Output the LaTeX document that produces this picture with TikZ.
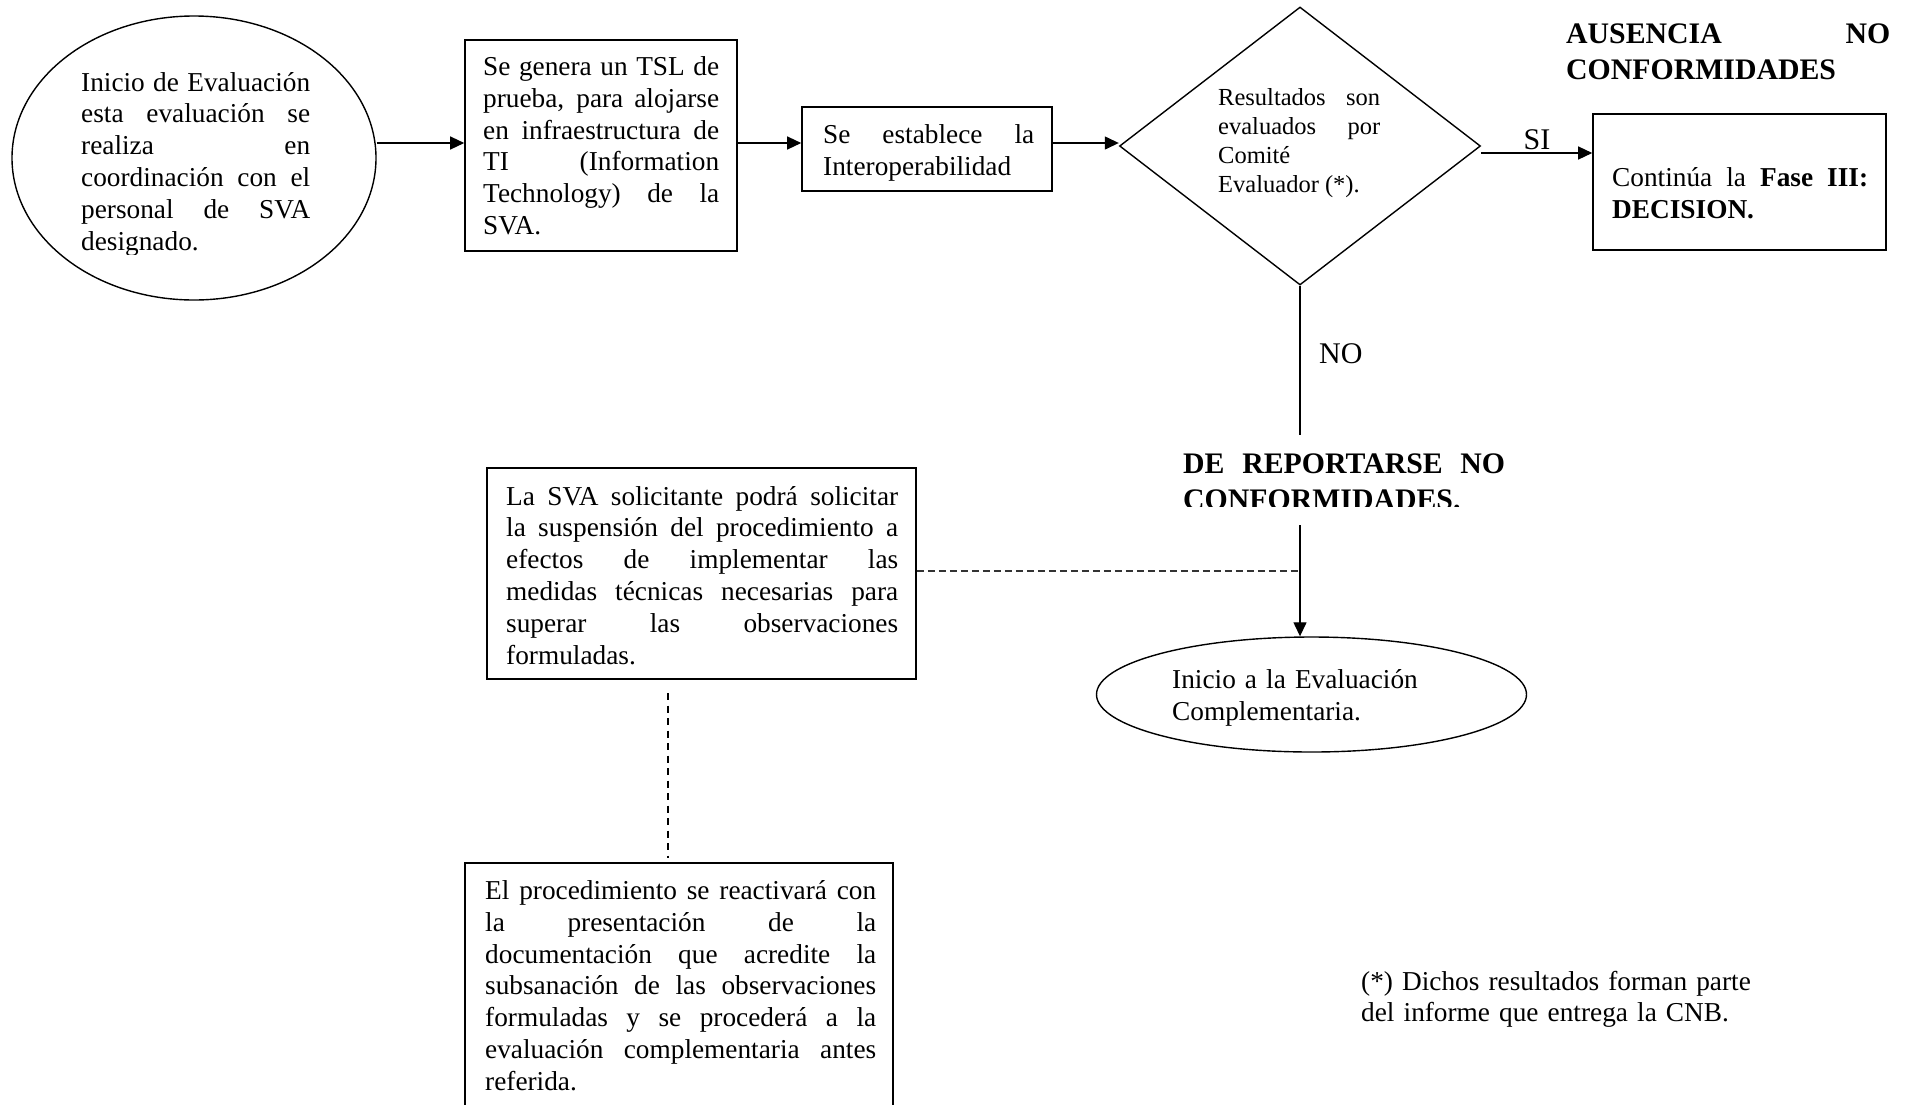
\documentclass[tikz,border=0pt]{standalone}
\usepackage{fontspec}
\setmainfont{Liberation Serif}
\usetikzlibrary{shapes.geometric,arrows.meta,calc}
\tolerance=10000
\hyphenpenalty=10000
\hbadness=10000
\begin{document}
\begin{tikzpicture}[x=1pt,y=-1pt,
  box/.style={draw, line width=1.6pt, rectangle, inner sep=0pt},
  oval/.style={draw, line width=1.4pt, ellipse, inner sep=0pt},
  txt/.style={anchor=base west, inner sep=0pt, align=justify, font=\fontsize{27.3}{31.8}\selectfont},
  smalltxt/.style={anchor=base west, inner sep=0pt, align=justify, font=\fontsize{24.5}{29}\selectfont},
  boldtxt/.style={anchor=base west, inner sep=0pt, align=justify, font=\fontsize{29.8}{36}\selectfont\bfseries},
  lbl/.style={inner sep=0pt, font=\fontsize{30}{36}\selectfont},
  conn/.style={line width=1.3pt},
  arr/.style={line width=1.3pt, -{Triangle[length=14pt,width=13pt]}},
  dashh/.style={line width=1.3pt, black!80, dash pattern=on 7pt off 4pt},
  dashv/.style={line width=1.8pt, dash pattern=on 7pt off 5.5pt}]
\clip (0,0) rectangle (1909,1104);
\fill[white] (0,0) rectangle (1909,1104);

% shapes
\node[oval, minimum width=364pt, minimum height=284pt] (e1) at (194,158) {};
\node[box, minimum width=272pt, minimum height=211pt] (b2) at (601,145.5) {};
\node[box, minimum width=250pt, minimum height=84pt] (b3) at (927,149) {};
\node[diamond, draw, line width=1.4pt, minimum width=361pt, minimum height=278pt, inner sep=0pt] (dia) at (1300,146) {};
\node[box, minimum width=293pt, minimum height=136pt] (b6) at (1739.5,182) {};
\node[box, minimum width=429pt, minimum height=211pt] (b4) at (701.5,573.5) {};
\node[oval, minimum width=430pt, minimum height=115pt] (e2) at (1311.5,694.5) {};
\node[box, minimum width=428pt, minimum height=267pt] (b5) at (679,996.5) {};

% texts
\begin{scope}
\clip (0,0) rectangle (1909,254);
\node[txt, text width=229pt] (t1) at (81,91) {Inicio de Evaluación\linebreak esta evaluación se\linebreak realiza en\linebreak coordinación con el\linebreak personal de SVA\linebreak designado.};
\end{scope}
\node[txt, text width=236pt] (t2) at (483,75.5) {Se genera un TSL de\linebreak prueba, para alojarse\linebreak en infraestructura de\linebreak TI (Information\linebreak Technology) de la\linebreak SVA.};
\node[txt, text width=211pt] (t3) at (823,143.5) {Se establece la\linebreak Interoperabilidad};
\node[smalltxt, text width=162pt] (td) at (1218,105.5) {Resultados son\linebreak evaluados por\linebreak Comité\linebreak Evaluador (*).};
\node[txt, text width=256pt] (t6) at (1612,186.5) {Continúa la \textbf{Fase III:}\linebreak \textbf{DECISION.}};
\node[boldtxt, text width=324pt] (ta) at (1566,43) {AUSENCIA NO\linebreak CONFORMIDADES};
\node[lbl, anchor=base] (si) at (1537,149) {SI};
\node[lbl, anchor=base west] (no) at (1319,363) {NO};
\begin{scope}
\clip (1100,400) rectangle (1600,506);
\node[boldtxt, text width=322pt] (tdr) at (1183,473) {DE REPORTARSE NO\linebreak CONFORMIDADES.};
\end{scope}
\node[txt, text width=392pt] (t4) at (506,505) {La SVA solicitante podrá solicitar\linebreak la suspensión del procedimiento a\linebreak efectos de implementar las\linebreak medidas técnicas necesarias para\linebreak superar las observaciones\linebreak formuladas.};
\node[txt, align=left, text width=320pt] (t7) at (1172,688.5) {Inicio a la Evaluación\\Complementaria.};
\node[txt, text width=391pt] (t5) at (485,899.5) {El procedimiento se reactivará con\linebreak la presentación de la\linebreak documentación que acredite la\linebreak subsanación de las observaciones\linebreak formuladas y se procederá a la\linebreak evaluación complementaria antes\linebreak referida.};
\node[txt, align=left, text width=420pt] (tf) at (1361,990) {(*) Dichos resultados forman parte\\del informe que entrega la CNB.};

% connectors
\coordinate (ra) at (0,143);
\draw[arr] (e1.east |- ra) -- (b2.west |- ra);
\draw[arr] (b2.east |- ra) -- (b3.west |- ra);
\draw[arr] (b3.east |- ra) -- (dia.west |- ra);
\coordinate (rb) at (0,153);
\draw[arr] (dia.east |- rb) -- (b6.west |- rb);
\coordinate (n1) at (1300,435);
\draw[conn] (dia.south) -- (n1);
\coordinate (n2) at (1300,525);
\draw[arr] (n2) -- (n2 |- e2.north);
\coordinate (d1) at (1300,571);
\draw[dashh] (b4.east |- d1) -- (d1);
\coordinate (d2) at (668,693);
\coordinate (d3) at (668,858);
\draw[dashv] (d2) -- (d3);
\end{tikzpicture}
\end{document}
